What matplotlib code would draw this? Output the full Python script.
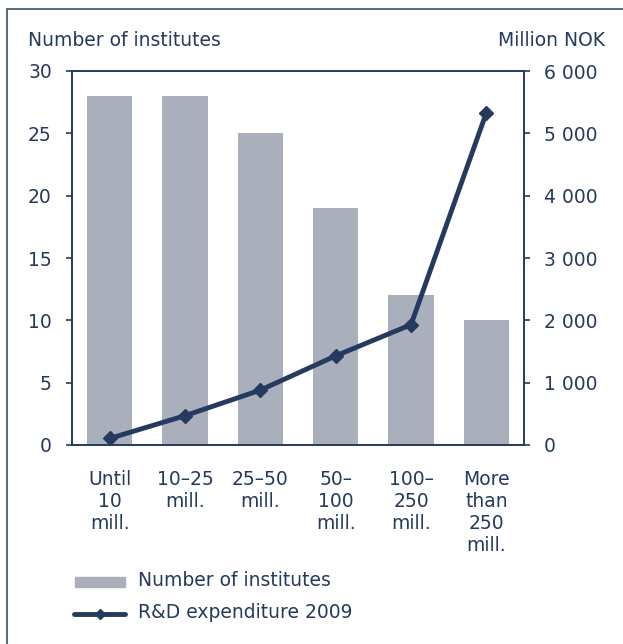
import numpy as np
import matplotlib.pyplot as plt
from matplotlib.patches import Rectangle
from matplotlib.lines import Line2D

categories = ["Until\n10\nmill.", "10\u201325\nmill.", "25\u201350\nmill.",
              "50\u2013\n100\nmill.", "100\u2013\n250\nmill.", "More\nthan\n250\nmill."]
institutes = [28, 28, 25, 19, 12, 10]
expenditure = [105, 470, 880, 1430, 1930, 5330]
left_ticks = [0, 5, 10, 15, 20, 25, 30]
right_ticks = [0, 1000, 2000, 3000, 4000, 5000, 6000]

navy = "#253a5e"
grey = "#a9b0bc"
plt.rcParams["font.family"] = ["DejaVu Sans"]
plt.rcParams["font.size"] = 13.5

W, H = 623, 644
fig = plt.figure(figsize=(W / 100, H / 100), dpi=100)
ax = fig.add_axes([72 / W, 1 - 445 / H, (524 - 72) / W, (445 - 71) / H])
ax2 = ax.twinx()

x = np.arange(len(categories))
ax.bar(x, institutes, width=0.6, color=grey, zorder=1)
ax.set_xlim(-0.5, len(categories) - 0.5)
ax.set_ylim(0, 30)
ax.set_yticks(left_ticks)
ax.set_xticks(x)
ax.set_xticklabels(categories, linespacing=1.2, va="top")

ax2.plot(x, expenditure, color=navy, lw=3.5, marker="D", ms=7.5, zorder=3)
ax2.set_ylim(0, 6000)
ax2.set_yticks(right_ticks)
ax2.set_yticklabels([f"{v:,}".replace(",", " ") for v in right_ticks])

for a in (ax, ax2):
    for s in a.spines.values():
        s.set_color(navy)
        s.set_linewidth(1.2)
    a.tick_params(colors=navy, labelcolor=navy, width=1.2, length=4.5)
ax.tick_params(axis="x", length=0, pad=18)
ax.tick_params(axis="y", pad=10)
ax2.tick_params(axis="y", pad=10)

fig.text(28 / W, 1 - 40 / H, "Number of institutes", color=navy, va="center", ha="left")
fig.text(605 / W, 1 - 40 / H, "Million NOK", color=navy, va="center", ha="right")

# legend
fig.patches.append(Rectangle((75 / W, 1 - 587 / H), 50 / W, 10 / H,
                             transform=fig.transFigure, color=grey))
fig.lines.append(Line2D([74 / W, 125 / W], [1 - 614 / H, 1 - 614 / H],
                        transform=fig.transFigure, color=navy, lw=3.5,
                        solid_capstyle="round"))
fig.lines.append(Line2D([100 / W], [1 - 614 / H], transform=fig.transFigure,
                        color=navy, marker="D", ms=5, ls="None"))
fig.text(138 / W, 1 - 581 / H, "Number of institutes", color=navy, va="center")
fig.text(138 / W, 1 - 613 / H, "R&D expenditure 2009", color=navy, va="center")

# outer frame (top and left edges visible)
fig.patches.append(Rectangle((7 / W, -0.1), 1.2, 1 - 9 / H + 0.1,
                             transform=fig.transFigure, fill=False,
                             edgecolor="#3c4d6e", lw=1.2))

fig.savefig("out.png", dpi=100)
